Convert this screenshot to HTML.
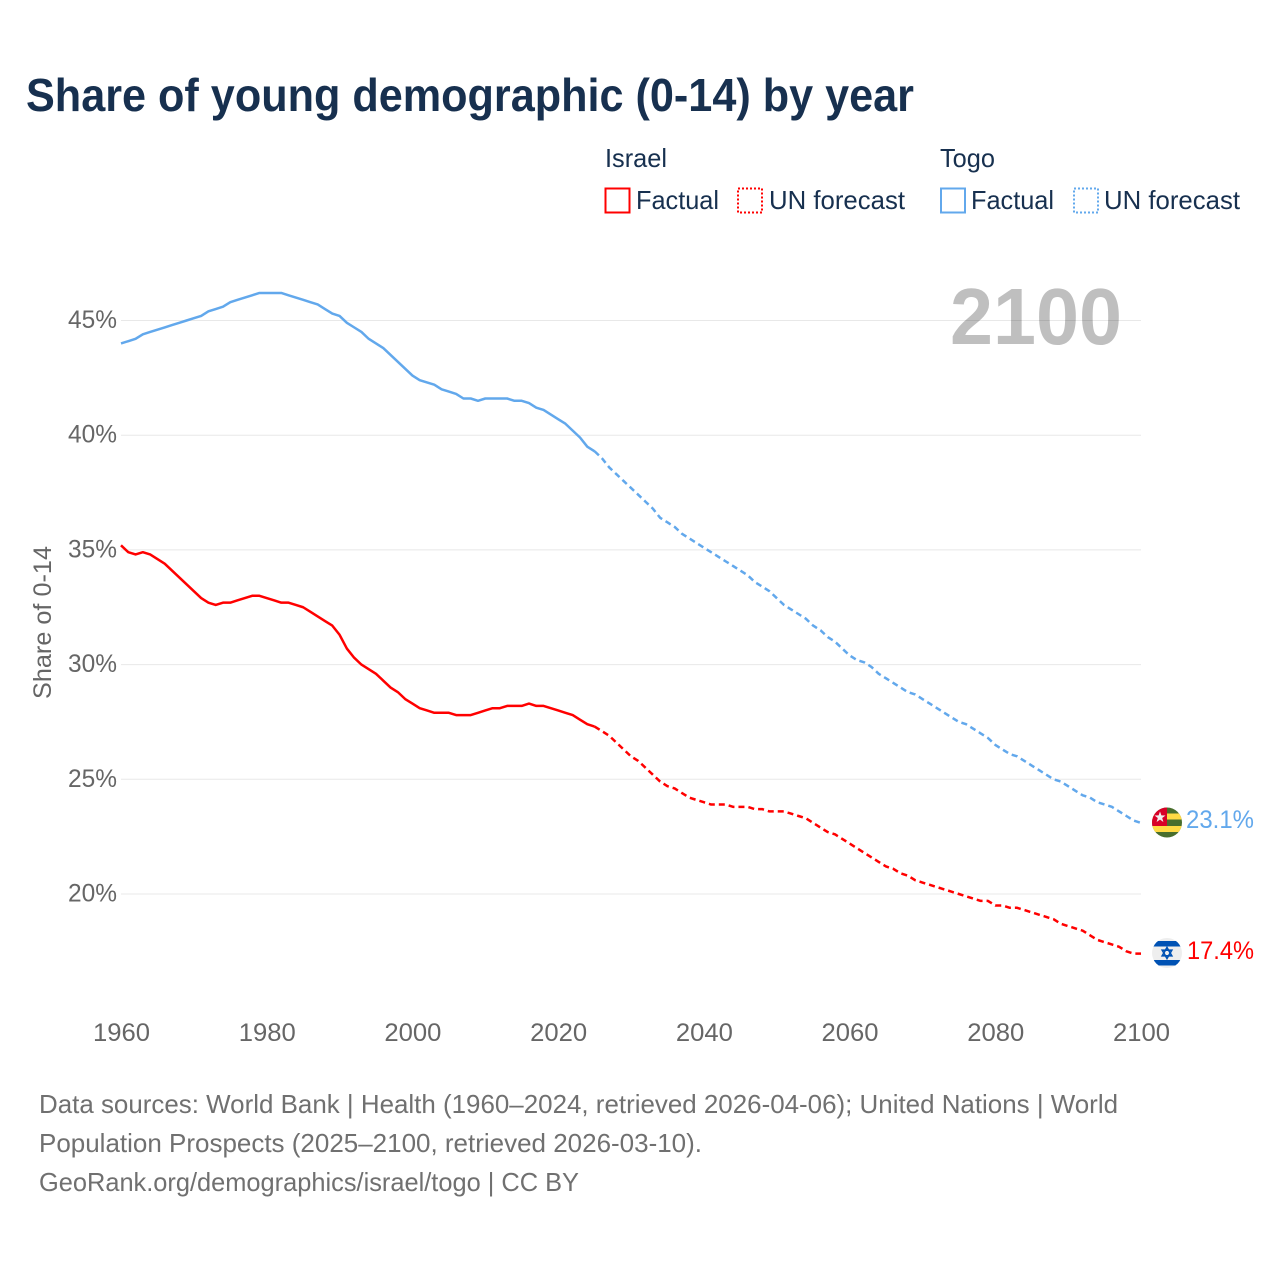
<!DOCTYPE html>
<html lang="en">
<head>
<meta charset="utf-8">
<title>Share of young demographic (0-14) by year</title>
<style>
html,body{margin:0;padding:0;background:#fff;}
svg{display:block;}
text{font-family:"Liberation Sans",sans-serif;}
</style>
</head>
<body>
<svg id="chart" xmlns="http://www.w3.org/2000/svg" width="1280" height="1280" viewBox="0 0 1280 1280">
  <rect width="1280" height="1280" fill="#fff"/>
  <text x="26" y="111" font-size="46" font-weight="700" fill="#17304f" textLength="888" lengthAdjust="spacingAndGlyphs">Share of young demographic (0-14) by year</text>

  <g font-size="26" fill="#17304f">
    <text x="605" y="167" textLength="62" lengthAdjust="spacingAndGlyphs">Israel</text>
    <rect x="605.5" y="188.5" width="24" height="24" fill="none" stroke="#ff0000" stroke-width="2"/>
    <text x="636" y="209" textLength="83" lengthAdjust="spacingAndGlyphs">Factual</text>
    <rect x="738" y="188.5" width="24" height="24" fill="none" stroke="#ff0000" stroke-width="2" stroke-dasharray="2 2"/>
    <text x="769" y="209" textLength="136" lengthAdjust="spacingAndGlyphs">UN forecast</text>
    <text x="940" y="167" textLength="55" lengthAdjust="spacingAndGlyphs">Togo</text>
    <rect x="941" y="188.5" width="24" height="24" fill="none" stroke="#62a8ec" stroke-width="2"/>
    <text x="971" y="209" textLength="83" lengthAdjust="spacingAndGlyphs">Factual</text>
    <rect x="1074" y="188.5" width="24" height="24" fill="none" stroke="#62a8ec" stroke-width="2" stroke-dasharray="2 2"/>
    <text x="1104" y="209" textLength="136" lengthAdjust="spacingAndGlyphs">UN forecast</text>
  </g>

  <g id="grid"></g>
  <g id="ytick-labels" font-size="25" fill="#666" text-anchor="end"></g>
  <g id="xtick-labels" font-size="25" fill="#666" text-anchor="middle"></g>
  <text transform="translate(51,622.5) rotate(-90)" text-anchor="middle" font-size="25" fill="#666" textLength="153" lengthAdjust="spacingAndGlyphs">Share of 0-14</text>

  <text x="950" y="344" font-size="80" font-weight="700" fill="#000" fill-opacity="0.25" textLength="172" lengthAdjust="spacingAndGlyphs">2100</text>

  <g id="series"></g>

  <defs>
    <clipPath id="clip-togo"><circle cx="1167" cy="822.5" r="15"/></clipPath>
    <clipPath id="clip-israel"><circle cx="1167" cy="953" r="15"/></clipPath>
  </defs>
  <g clip-path="url(#clip-togo)">
    <rect x="1152" y="807" width="30" height="31" fill="#496e2d"/>
    <rect x="1152" y="813.5" width="30" height="6" fill="#ffda44"/>
    <rect x="1152" y="826" width="30" height="6" fill="#ffda44"/>
    <rect x="1152" y="807" width="15" height="19" fill="#d80027"/>
    <polygon points="1160,811.5 1161.4,815.4 1165.5,815.5 1162.2,818 1163.4,822 1160,819.6 1156.6,822 1157.8,818 1154.5,815.5 1158.6,815.4" fill="#f0f0f0"/>
  </g>
  <text x="1186" y="828" font-size="25" fill="#62a8ec" textLength="68" lengthAdjust="spacingAndGlyphs">23.1%</text>
  <g clip-path="url(#clip-israel)">
    <rect x="1152" y="938" width="30" height="30" fill="#eeeeee"/>
    <rect x="1152" y="941" width="30" height="5.5" fill="#0052b4"/>
    <rect x="1152" y="960" width="30" height="5.5" fill="#0052b4"/>
    <polygon points="1167,947.5 1171.8,955.8 1162.2,955.8" fill="none" stroke="#0052b4" stroke-width="1.6"/>
    <polygon points="1167,958.5 1171.8,950.2 1162.2,950.2" fill="none" stroke="#0052b4" stroke-width="1.6"/>
  </g>
  <text x="1187" y="959" font-size="25" fill="#ff0000" textLength="67" lengthAdjust="spacingAndGlyphs">17.4%</text>

  <g font-size="26" fill="#707070">
    <text x="39" y="1113" textLength="1079" lengthAdjust="spacingAndGlyphs">Data sources: World Bank | Health (1960–2024, retrieved 2026-04-06); United Nations | World</text>
    <text x="39" y="1152" textLength="663" lengthAdjust="spacingAndGlyphs">Population Prospects (2025–2100, retrieved 2026-03-10).</text>
    <text x="39" y="1191" textLength="540" lengthAdjust="spacingAndGlyphs">GeoRank.org/demographics/israel/togo | CC BY</text>
  </g>
</svg>
<script>
const xTicks = [1960, 1980, 2000, 2020, 2040, 2060, 2080, 2100];
const yTicks = [45, 40, 35, 30, 25, 20];
const factualStartYear = 1960;
const forecastStartYear = 2025;
const israelFactual = [35.2,34.9,34.8,34.9,34.8,34.6,34.4,34.1,33.8,33.5,33.2,32.9,32.7,32.6,32.7,32.7,32.8,32.9,33.0,33.0,32.9,32.8,32.7,32.7,32.6,32.5,32.3,32.1,31.9,31.7,31.3,30.7,30.3,30.0,29.8,29.6,29.3,29.0,28.8,28.5,28.3,28.1,28.0,27.9,27.9,27.9,27.8,27.8,27.8,27.9,28.0,28.1,28.1,28.2,28.2,28.2,28.3,28.2,28.2,28.1,28.0,27.9,27.8,27.6,27.4,27.3];
const israelForecast = [27.3,27.1,26.9,26.6,26.3,26.0,25.8,25.5,25.2,24.9,24.7,24.6,24.4,24.2,24.1,24.0,23.9,23.9,23.9,23.8,23.8,23.8,23.7,23.7,23.6,23.6,23.6,23.5,23.4,23.3,23.1,22.9,22.7,22.6,22.4,22.2,22.0,21.8,21.6,21.4,21.2,21.1,20.9,20.8,20.6,20.5,20.4,20.3,20.2,20.1,20.0,19.9,19.8,19.7,19.7,19.5,19.5,19.4,19.4,19.3,19.2,19.1,19.0,18.9,18.7,18.6,18.5,18.4,18.2,18.0,17.9,17.8,17.7,17.5,17.4,17.4];
const togoFactual = [44.0,44.1,44.2,44.4,44.5,44.6,44.7,44.8,44.9,45.0,45.1,45.2,45.4,45.5,45.6,45.8,45.9,46.0,46.1,46.2,46.2,46.2,46.2,46.1,46.0,45.9,45.8,45.7,45.5,45.3,45.2,44.9,44.7,44.5,44.2,44.0,43.8,43.5,43.2,42.9,42.6,42.4,42.3,42.2,42.0,41.9,41.8,41.6,41.6,41.5,41.6,41.6,41.6,41.6,41.5,41.5,41.4,41.2,41.1,40.9,40.7,40.5,40.2,39.9,39.5,39.3];
const togoForecast = [39.3,39.0,38.6,38.3,38.0,37.7,37.4,37.1,36.8,36.4,36.2,36.0,35.7,35.5,35.3,35.1,34.9,34.7,34.5,34.3,34.1,33.9,33.6,33.4,33.2,32.9,32.6,32.4,32.2,32.0,31.7,31.5,31.2,31.0,30.7,30.4,30.2,30.1,29.9,29.6,29.4,29.2,29.0,28.8,28.7,28.5,28.3,28.1,27.9,27.7,27.5,27.4,27.2,27.0,26.8,26.5,26.3,26.1,26.0,25.8,25.6,25.4,25.2,25.0,24.9,24.7,24.5,24.3,24.2,24.0,23.9,23.8,23.6,23.4,23.2,23.1];

const SVG_NS = 'http://www.w3.org/2000/svg';
function xScale(year) { return 121 + (year - 1960) * (1020 / 140); }
function yScale(pct) { return 320.5 + (45 - pct) * (573.5 / 25); }
function pathFor(values, startYear) {
  return values.map(function (v, i) {
    return (i ? 'L' : 'M') + xScale(startYear + i).toFixed(2) + ' ' + yScale(v).toFixed(2);
  }).join(' ');
}

const grid = document.getElementById('grid');
const yLabels = document.getElementById('ytick-labels');
yTicks.forEach(function (t) {
  const line = document.createElementNS(SVG_NS, 'line');
  
  
  line.setAttribute('x1', xScale(1960));
  line.setAttribute('x2', xScale(2100));
  line.setAttribute('y1', yScale(t));
  line.setAttribute('y2', yScale(t));
  line.setAttribute('stroke', '#e8e8e8');
  line.setAttribute('stroke-width', '1');
  grid.appendChild(line);
  const label = document.createElementNS(SVG_NS, 'text');
  
  
  label.setAttribute('x', 117);
  label.setAttribute('y', yScale(t) + 7.5);
  label.setAttribute('textLength', '49');
  label.setAttribute('lengthAdjust', 'spacingAndGlyphs');
  label.textContent = t + '%';
  yLabels.appendChild(label);
});

const xLabels = document.getElementById('xtick-labels');
xTicks.forEach(function (t) {
  const label = document.createElementNS(SVG_NS, 'text');
  
  
  label.setAttribute('x', xScale(t) + 0.5);
  label.setAttribute('y', 1041);
  label.setAttribute('textLength', '57');
  label.setAttribute('lengthAdjust', 'spacingAndGlyphs');
  label.textContent = t;
  xLabels.appendChild(label);
});

const seriesGroup = document.getElementById('series');
function drawLine(name, values, startYear, color, dash) {
  const p = document.createElementNS(SVG_NS, 'path');
  
  
  p.setAttribute('d', pathFor(values, startYear));
  p.setAttribute('fill', 'none');
  p.setAttribute('stroke', color);
  p.setAttribute('stroke-width', '2.5');
  p.setAttribute('stroke-linejoin', 'round');
  if (dash) { p.setAttribute('stroke-dasharray', dash); }
  seriesGroup.appendChild(p);
}
drawLine('israel-factual-line', israelFactual, factualStartYear, '#ff0000', null);
drawLine('israel-forecast-line', israelForecast, forecastStartYear, '#ff0000', '6 4');
drawLine('togo-factual-line', togoFactual, factualStartYear, '#62a8ec', null);
drawLine('togo-forecast-line', togoForecast, forecastStartYear, '#62a8ec', '6 4');
</script>
</body>
</html>
